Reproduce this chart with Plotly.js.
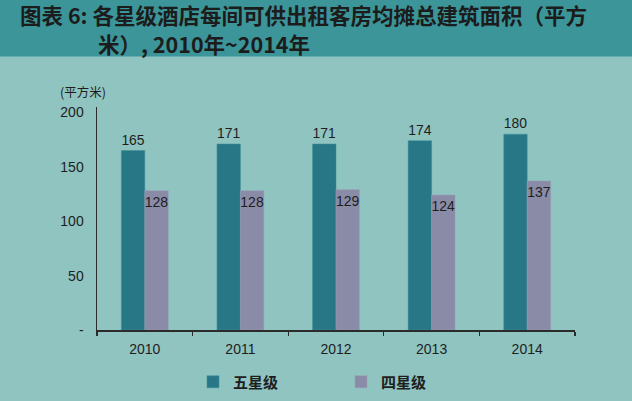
<!DOCTYPE html>
<html>
<head>
<meta charset="utf-8">
<script src="https://cdn.plot.ly/plotly-3.0.1.min.js"></script>
<style>
html,body{margin:0;padding:0;background:#8fc4c0;}
#chart{width:632px;height:401px;}
</style>
</head>
<body>
<div id="chart"></div>
<script>
var years = ['2010', '2011', '2012', '2013', '2014'];
var fiveStar = [165, 171, 171, 174, 180];
var fourStar = [128, 128, 129, 124, 137];
var seriesNames = ['五星级', '四星级'];
var yTickVals = [0, 50, 100, 150, 200];
var yTickText = ['-', '50', '100', '150', '200'];
var titleLine1 = '图表 6: 各星级酒店每间可供出租客房均摊总建筑面积（平方';
var titleLine2 = '米）, 2010年~2014年';
var unitLabel = '(平方米)';

var W = 632, H = 401;
var mL = 97, mR = 57, mT = 107, mB = 71;
var pw = W - mL - mR, ph = H - mT - mB;
function px(x) { return (x - mL) / pw; }
function py(y) { return (H - mB - y) / ph; }

var numFont = 'Liberation Sans, Arial, sans-serif';
var cjkFont = 'Noto Sans CJK SC, sans-serif';

var traces = [
  {
    type: 'bar', name: seriesNames[0], x: years, y: fiveStar,
    marker: {color: '#287787', line: {color: '#3f8f9b', width: 0.5}},
    text: fiveStar.map(String), textposition: 'outside', cliponaxis: false,
    textfont: {family: numFont, size: 14, color: '#1e1e1e'},
    hoverinfo: 'none'
  },
  {
    type: 'bar', name: seriesNames[1], x: years, y: fourStar,
    marker: {color: '#8a8ba7', line: {color: '#9c9db6', width: 0.5}},
    text: fourStar.map(String), textposition: 'inside', insidetextanchor: 'end',
    textangle: 0, constraintext: 'none',
    insidetextfont: {family: numFont, size: 14, color: '#1e1e1e'},
    hoverinfo: 'none'
  }
];

var layout = {
  width: W, height: H,
  margin: {l: mL, r: mR, t: mT, b: mB, pad: 0, autoexpand: false},
  paper_bgcolor: '#8fc4c0',
  plot_bgcolor: 'rgba(0,0,0,0)',
  showlegend: true,
  barmode: 'group',
  bargap: 0.51,
  bargroupgap: 0,
  xaxis: {
    type: 'category',
    showgrid: false, zeroline: false,
    showline: true, linecolor: '#2b2b2b', linewidth: 1.5,
    ticks: 'outside', tickson: 'boundaries', ticklen: 4, tickwidth: 1.2, tickcolor: '#2b2b2b',
    ticklabelstandoff: 6,
    tickfont: {family: numFont, size: 14, color: '#1e1e1e'},
    fixedrange: true, automargin: false
  },
  yaxis: {
    range: [0, 205],
    showgrid: false, zeroline: false,
    showline: true, linecolor: '#2b2b2b', linewidth: 1.5,
    ticks: '', tickvals: yTickVals, ticktext: yTickText,
    ticklabelstandoff: 9,
    tickfont: {family: numFont, size: 14, color: '#1e1e1e'},
    fixedrange: true, automargin: false
  },
  legend: {
    orientation: 'h',
    xref: 'container', yref: 'container',
    x: 193 / W, xanchor: 'left',
    y: (H - 382) / H, yanchor: 'middle',
    bgcolor: 'rgba(0,0,0,0)',
    entrywidth: 103, entrywidthmode: 'pixels',
    font: {family: cjkFont, size: 15, color: '#1e1e1e', weight: 'bold'},
    traceorder: 'normal'
  },
  shapes: [
    {
      type: 'rect', xref: 'paper', yref: 'paper', layer: 'below',
      x0: px(-20), x1: px(W + 20), y0: py(56.5), y1: py(-20),
      fillcolor: '#3b9599', line: {width: 0}
    }
  ],
  annotations: [
    {
      xref: 'paper', yref: 'paper', x: px(18), y: py(14.5),
      xanchor: 'left', yanchor: 'middle', showarrow: false,
      text: titleLine1,
      font: {family: cjkFont, size: 21.5, color: '#1c1c1c', weight: 'bold'}
    },
    {
      xref: 'paper', yref: 'paper', x: px(96), y: py(43.5),
      xanchor: 'left', yanchor: 'middle', showarrow: false,
      text: titleLine2,
      font: {family: cjkFont, size: 21.5, color: '#1c1c1c', weight: 'bold'}
    },
    {
      xref: 'paper', yref: 'paper', x: px(58), y: py(91),
      xanchor: 'left', yanchor: 'middle', showarrow: false,
      text: unitLabel,
      font: {family: cjkFont, size: 12.5, color: '#1e1e1e'}
    }
  ]
};

Plotly.newPlot('chart', traces, layout, {displayModeBar: false, staticPlot: true});
</script>
</body>
</html>
